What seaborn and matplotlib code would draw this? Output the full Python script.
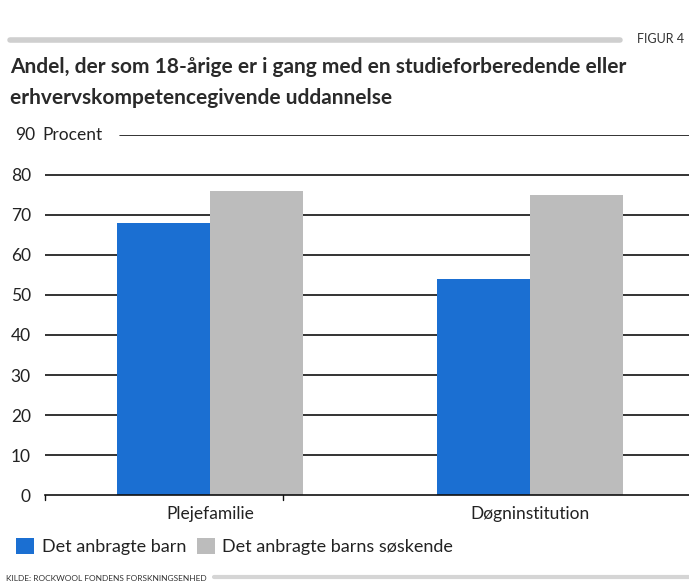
import pandas as pd
import matplotlib.pyplot as plt
import seaborn as sns
from matplotlib.lines import Line2D
from matplotlib.patches import Patch

kategorier = ['Plejefamilie', 'Døgninstitution']
grupper = ['Det anbragte barn', 'Det anbragte barns søskende']
barn = [68, 54]
soskende = [76, 75]
yticks = [0, 10, 20, 30, 40, 50, 60, 70, 80, 90]

df = pd.DataFrame({
    'kategori': kategorier * 2,
    'gruppe': [grupper[0]] * 2 + [grupper[1]] * 2,
    'procent': barn + soskende,
})

farver = {grupper[0]: '#1b6fd2', grupper[1]: '#bcbcbc'}

sns.set_style('white')
plt.rcParams['font.family'] = ['Lato', 'DejaVu Sans']

fig = plt.figure(figsize=(6.89, 5.86), dpi=100)
ax = fig.add_axes([0.065, 0.155, 0.935, 0.615])

# gitterlinjer bag søjlerne
for v in yticks[1:-1]:
    ax.axhline(v, color='#111111', lw=1.2, zorder=0)
ax.axhline(90, xmin=0.116, xmax=1, color='#111111', lw=1.2, zorder=0)

sns.barplot(data=df, x='kategori', y='procent', hue='gruppe',
            palette=farver, width=0.58, saturation=1, ax=ax,
            legend=False, zorder=2, linewidth=0)

ax.set_ylim(0, 90)
ax.set_xlim(-0.516, 1.497)
ax.set_yticks(yticks[:-1])
ax.set_yticklabels([str(t) for t in yticks[:-1]])
ax.tick_params(axis='y', length=0, pad=10, labelsize=12.5, colors='#222222')
ax.tick_params(axis='x', length=0, pad=8, labelsize=12.5, colors='#222222')
ax.set_xlabel('')
ax.set_ylabel('')
for s in ['top', 'right', 'left']:
    ax.spines[s].set_visible(False)
ax.spines['bottom'].set_color('#111111')
ax.spines['bottom'].set_linewidth(1.2)
ax.text(-0.0155, 90, '90', transform=ax.get_yaxis_transform(), ha='right', va='center',
        fontsize=12.5, color='#222222')
ax.text(-0.003, 90, 'Procent', transform=ax.get_yaxis_transform(), ha='left', va='center',
        fontsize=12.5, color='#222222')
# lille lodret streg på x-aksen
ax.plot([0.228, 0.228], [0, -1.3], color='#111111', lw=1, clip_on=False)
ax.plot([-0.516, -0.516], [0, -1.3], color='#111111', lw=1, clip_on=False)

# hoved
fig.add_artist(Line2D([0.015, 0.9], [0.932, 0.932], color='#cfcfcf', lw=4))
fig.text(0.925, 0.934, 'FIGUR 4', fontsize=9, color='#333333', va='center')
fig.text(0.015, 0.885, 'Andel, der som 18-årige er i gang med en studieforberedende eller',
         fontsize=15, fontweight='bold', color='#2a2a2a', va='center')
fig.text(0.015, 0.832, 'erhvervskompetencegivende uddannelse',
         fontsize=15, fontweight='bold', color='#2a2a2a', va='center')

# forklaring
handles = [Patch(facecolor=farver[g], edgecolor='none') for g in grupper]
fig.legend(handles, grupper, loc='center left', bbox_to_anchor=(0.0, 0.067),
           ncol=2, frameon=False, fontsize=13, handlelength=1.0, handleheight=1.0,
           handletextpad=0.4, columnspacing=0.6, labelcolor='#222222')

# kilde
fig.text(0.008, 0.013, 'KILDE: ROCKWOOL FONDENS FORSKNINGSENHED', fontsize=6,
         color='#333333', va='center')
fig.add_artist(Line2D([0.31, 1.0], [0.016, 0.016], color='#d5d5d5', lw=3))

fig.savefig('out.png', dpi=100)
